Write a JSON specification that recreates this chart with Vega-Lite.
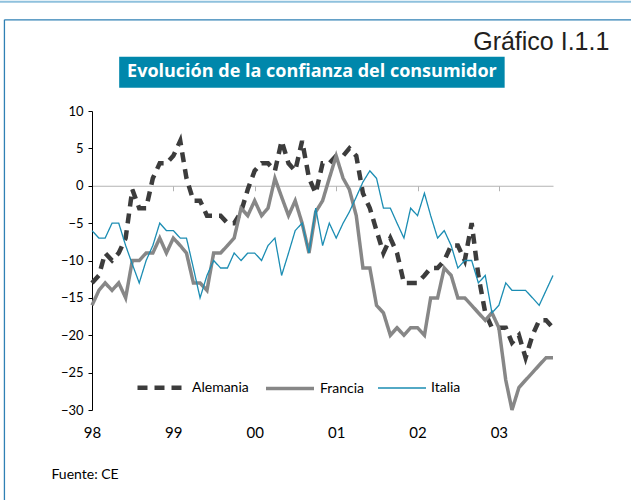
{
  "$schema": "https://vega.github.io/schema/vega-lite/v6.json",
  "autosize": {"type": "none"},
  "width": 461,
  "height": 299,
  "padding": {"left": 92, "top": 111, "right": 78, "bottom": 90},
  "background": "white",
  "config": {"view": {"stroke": null}, "font": "Lato"},
  "resolve": {"scale": {"x": "independent", "y": "independent"}, "axis": {"x": "independent", "y": "independent"}},
  "data": {"values": [
    {"date": "1998/01/01", "Alemania": -13, "Francia": -16, "Italia": -6},
    {"date": "1998/02/01", "Alemania": -12, "Francia": -14, "Italia": -7},
    {"date": "1998/03/01", "Alemania": -9, "Francia": -13, "Italia": -7},
    {"date": "1998/04/01", "Alemania": -10, "Francia": -14, "Italia": -5},
    {"date": "1998/05/01", "Alemania": -9, "Francia": -13, "Italia": -5},
    {"date": "1998/06/01", "Alemania": -7, "Francia": -15, "Italia": -8},
    {"date": "1998/07/01", "Alemania": -0.5, "Francia": -10, "Italia": -10.5},
    {"date": "1998/08/01", "Alemania": -3, "Francia": -10, "Italia": -13},
    {"date": "1998/09/01", "Alemania": -3, "Francia": -9, "Italia": -10},
    {"date": "1998/10/01", "Alemania": 1, "Francia": -9, "Italia": -8},
    {"date": "1998/11/01", "Alemania": 3, "Francia": -7, "Italia": -5},
    {"date": "1998/12/01", "Alemania": 3, "Francia": -9, "Italia": -6},
    {"date": "1999/01/01", "Alemania": 4, "Francia": -7, "Italia": -6},
    {"date": "1999/02/01", "Alemania": 6, "Francia": -8, "Italia": -7},
    {"date": "1999/03/01", "Alemania": 1, "Francia": -9, "Italia": -7},
    {"date": "1999/04/01", "Alemania": -2, "Francia": -13, "Italia": -11},
    {"date": "1999/05/01", "Alemania": -2, "Francia": -13, "Italia": -15},
    {"date": "1999/06/01", "Alemania": -4, "Francia": -14, "Italia": -12},
    {"date": "1999/07/01", "Alemania": -4, "Francia": -9, "Italia": -10},
    {"date": "1999/08/01", "Alemania": -4, "Francia": -9, "Italia": -11},
    {"date": "1999/09/01", "Alemania": -5, "Francia": -8, "Italia": -11},
    {"date": "1999/10/01", "Alemania": -5, "Francia": -7, "Italia": -9},
    {"date": "1999/11/01", "Alemania": -3.5, "Francia": -3, "Italia": -10},
    {"date": "1999/12/01", "Alemania": -0.5, "Francia": -4, "Italia": -9},
    {"date": "2000/01/01", "Alemania": 2, "Francia": -2, "Italia": -9},
    {"date": "2000/02/01", "Alemania": 3, "Francia": -4, "Italia": -10},
    {"date": "2000/03/01", "Alemania": 3, "Francia": -3, "Italia": -8},
    {"date": "2000/04/01", "Alemania": 2, "Francia": 1, "Italia": -7},
    {"date": "2000/05/01", "Alemania": 6, "Francia": -1.5, "Italia": -12},
    {"date": "2000/06/01", "Alemania": 3, "Francia": -4, "Italia": -9},
    {"date": "2000/07/01", "Alemania": 2, "Francia": -2, "Italia": -6},
    {"date": "2000/08/01", "Alemania": 6, "Francia": -5, "Italia": -5},
    {"date": "2000/09/01", "Alemania": 1, "Francia": -9, "Italia": -9},
    {"date": "2000/10/01", "Alemania": -1, "Francia": -3.5, "Italia": -3},
    {"date": "2000/11/01", "Alemania": 3, "Francia": -2, "Italia": -8},
    {"date": "2000/12/01", "Alemania": 3, "Francia": 1, "Italia": -5},
    {"date": "2001/01/01", "Alemania": 4, "Francia": 4, "Italia": -7},
    {"date": "2001/02/01", "Alemania": 4, "Francia": 1, "Italia": -5},
    {"date": "2001/03/01", "Alemania": 5, "Francia": -0.5, "Italia": -3.5},
    {"date": "2001/04/01", "Alemania": 4, "Francia": -4, "Italia": -1.5},
    {"date": "2001/05/01", "Alemania": -1, "Francia": -11, "Italia": 0.5},
    {"date": "2001/06/01", "Alemania": -3, "Francia": -11, "Italia": 2},
    {"date": "2001/07/01", "Alemania": -6, "Francia": -16, "Italia": 1},
    {"date": "2001/08/01", "Alemania": -9, "Francia": -17, "Italia": -3},
    {"date": "2001/09/01", "Alemania": -7, "Francia": -20, "Italia": -3},
    {"date": "2001/10/01", "Alemania": -9, "Francia": -19, "Italia": -5},
    {"date": "2001/11/01", "Alemania": -13, "Francia": -20, "Italia": -7},
    {"date": "2001/12/01", "Alemania": -13, "Francia": -19, "Italia": -3},
    {"date": "2002/01/01", "Alemania": -13, "Francia": -19, "Italia": -4},
    {"date": "2002/02/01", "Alemania": -12, "Francia": -20, "Italia": -1},
    {"date": "2002/03/01", "Alemania": -11, "Francia": -15, "Italia": -4},
    {"date": "2002/04/01", "Alemania": -11, "Francia": -15, "Italia": -7},
    {"date": "2002/05/01", "Alemania": -10, "Francia": -11, "Italia": -6},
    {"date": "2002/06/01", "Alemania": -8, "Francia": -12, "Italia": -8},
    {"date": "2002/07/01", "Alemania": -8, "Francia": -15, "Italia": -11},
    {"date": "2002/08/01", "Alemania": -10, "Francia": -15, "Italia": -10},
    {"date": "2002/09/01", "Alemania": -5, "Francia": -16, "Italia": -10},
    {"date": "2002/10/01", "Alemania": -12, "Francia": -17, "Italia": -13},
    {"date": "2002/11/01", "Alemania": -17, "Francia": -18, "Italia": -12},
    {"date": "2002/12/01", "Alemania": -19, "Francia": -17, "Italia": -17},
    {"date": "2003/01/01", "Alemania": -19, "Francia": -19, "Italia": -16},
    {"date": "2003/02/01", "Alemania": -19, "Francia": -26, "Italia": -13},
    {"date": "2003/03/01", "Alemania": -21, "Francia": -30, "Italia": -14},
    {"date": "2003/04/01", "Alemania": -20, "Francia": -27, "Italia": -14},
    {"date": "2003/05/01", "Alemania": -23, "Francia": -26, "Italia": -14},
    {"date": "2003/06/01", "Alemania": -20, "Francia": -25, "Italia": -15},
    {"date": "2003/07/01", "Alemania": -18, "Francia": -24, "Italia": -16},
    {"date": "2003/08/01", "Alemania": -18, "Francia": -23, "Italia": -14},
    {"date": "2003/09/01", "Alemania": -19, "Francia": -23, "Italia": -12}
  ]},
  "layer": [
    {
      "transform": [{"fold": ["Alemania", "Francia", "Italia"], "as": ["pais", "valor"]}],
      "mark": {"type": "line", "clip": false},
      "encoding": {
        "x": {"field": "date", "type": "temporal",
          "scale": {"domain": [{"year": 1998, "month": 1, "date": 1}, {"year": 2003, "month": 9, "date": 1}]},
          "axis": {"title": null, "orient": "bottom", "offset": -224.25, "format": "%y",
            "values": [{"year": 1998, "month": 1, "date": 1}, {"year": 1999, "month": 1, "date": 1}, {"year": 2000, "month": 1, "date": 1}, {"year": 2001, "month": 1, "date": 1}, {"year": 2002, "month": 1, "date": 1}, {"year": 2003, "month": 1, "date": 1}],
            "domainColor": "#b3b3b3", "domainWidth": 1.2, "tickColor": "#b3b3b3", "tickSize": 5, "tickWidth": 1,
            "labelPadding": 235, "labelFontSize": 15, "labelColor": "black", "labelFont": "Lato", "grid": false, "labelFlush": false, "labelOverlap": false}},
        "y": {"field": "valor", "type": "quantitative",
          "scale": {"domain": [-30, 10], "nice": false, "zero": false},
          "axis": {"title": null, "values": [-30, -25, -20, -15, -10, -5, 0, 5, 10], "labelOverlap": false, "labelFlush": false, "domainColor": "black", "domainWidth": 1, "tickColor": "black", "tickSize": 4, "labelPadding": 5, "labelFontSize": 13, "labelColor": "black", "labelFont": "Lato", "grid": false}},
        "color": {"field": "pais", "type": "nominal",
          "scale": {"domain": ["Alemania", "Francia", "Italia"], "range": ["#3c3c3c", "#878787", "#1b8db3"]},
          "legend": {"title": null, "orient": "none", "legendX": 43, "legendY": 250, "direction": "horizontal", "symbolType": "stroke", "symbolSize": 2304, "labelFontSize": 14, "labelFont": "Lato", "labelColor": "black", "columnPadding": 10, "labelOffset": 4}},
        "strokeDash": {"field": "pais", "type": "nominal",
          "scale": {"domain": ["Alemania", "Francia", "Italia"], "range": [[10, 7], [1, 0], [1, 0]]},
          "legend": {"title": null, "orient": "none", "legendX": 43, "legendY": 250, "direction": "horizontal", "symbolType": "stroke", "symbolSize": 2304, "labelFontSize": 14, "labelFont": "Lato", "labelColor": "black", "columnPadding": 10, "labelOffset": 4}},
        "strokeWidth": {"field": "pais", "type": "ordinal",
          "scale": {"type": "ordinal", "domain": ["Alemania", "Francia", "Italia"], "range": [4.5, 3.5, 1.3]},
          "legend": {"title": null, "orient": "none", "legendX": 43, "legendY": 250, "direction": "horizontal", "symbolType": "stroke", "symbolSize": 2304, "labelFontSize": 14, "labelFont": "Lato", "labelColor": "black", "columnPadding": 10, "labelOffset": 4}}
      }
    },
    {
      "data": {"values": [{}]},
      "mark": {"type": "rule", "color": "#8fc1dd", "strokeWidth": 2, "clip": false},
      "encoding": {
        "x": {"datum": {"year": 1996, "month": 1, "date": 1}, "type": "temporal", "axis": null, "scale": {"domain": [{"year": 1998, "month": 1, "date": 1}, {"year": 2003, "month": 9, "date": 1}]}},
        "x2": {"datum": {"year": 2005, "month": 1, "date": 1}},
        "y": {"datum": 24.6, "type": "quantitative", "axis": null, "scale": {"domain": [-30, 10], "nice": false, "zero": false}}
      }
    },
    {
      "data": {"values": [{}]},
      "mark": {"type": "rule", "color": "#2f80b4", "strokeWidth": 1.3, "clip": false},
      "encoding": {
        "x": {"datum": {"year": 1996, "month": 12, "date": 4}, "type": "temporal", "axis": null, "scale": {"domain": [{"year": 1998, "month": 1, "date": 1}, {"year": 2003, "month": 9, "date": 1}]}},
        "x2": {"datum": {"year": 2005, "month": 1, "date": 1}},
        "y": {"datum": 22.2, "type": "quantitative", "axis": null, "scale": {"domain": [-30, 10], "nice": false, "zero": false}}
      }
    },
    {
      "data": {"values": [{}]},
      "mark": {"type": "rule", "color": "#2f80b4", "strokeWidth": 1.3, "clip": false},
      "encoding": {
        "x": {"datum": {"year": 1996, "month": 12, "date": 4}, "type": "temporal", "axis": null, "scale": {"domain": [{"year": 1998, "month": 1, "date": 1}, {"year": 2003, "month": 9, "date": 1}]}},
        "y": {"datum": 22.2, "type": "quantitative", "axis": null, "scale": {"domain": [-30, 10], "nice": false, "zero": false}},
        "y2": {"datum": -50}
      }
    },
    {
      "data": {"values": [{}]},
      "mark": {"type": "rect", "color": "#0087ab", "clip": false},
      "encoding": {
        "x": {"datum": {"year": 1998, "month": 5, "date": 3}, "type": "temporal", "axis": null, "scale": {"domain": [{"year": 1998, "month": 1, "date": 1}, {"year": 2003, "month": 9, "date": 1}]}},
        "x2": {"datum": {"year": 2003, "month": 1, "date": 27}},
        "y": {"datum": 17.26, "type": "quantitative", "axis": null, "scale": {"domain": [-30, 10], "nice": false, "zero": false}},
        "y2": {"datum": 13.11}
      }
    },
    {
      "data": {"values": [{"t": "Evolución de la confianza del consumidor"}]},
      "mark": {"type": "text", "color": "white", "font": "Open Sans", "fontWeight": "bold", "fontSize": 18, "align": "center", "baseline": "middle", "clip": false},
      "encoding": {
        "x": {"datum": {"year": 2000, "month": 9, "date": 14}, "type": "temporal", "axis": null, "scale": {"domain": [{"year": 1998, "month": 1, "date": 1}, {"year": 2003, "month": 9, "date": 1}]}},
        "y": {"datum": 15.18, "type": "quantitative", "axis": null, "scale": {"domain": [-30, 10], "nice": false, "zero": false}},
        "text": {"field": "t"}
      }
    },
    {
      "data": {"values": [{"t": "Gráfico I.1.1"}]},
      "mark": {"type": "text", "color": "#231f20", "font": "Liberation Sans", "fontSize": 25, "align": "right", "baseline": "middle", "clip": false},
      "encoding": {
        "x": {"datum": {"year": 2004, "month": 5, "date": 11}, "type": "temporal", "axis": null, "scale": {"domain": [{"year": 1998, "month": 1, "date": 1}, {"year": 2003, "month": 9, "date": 1}]}},
        "y": {"datum": 19.26, "type": "quantitative", "axis": null, "scale": {"domain": [-30, 10], "nice": false, "zero": false}},
        "text": {"field": "t"}
      }
    },
    {
      "data": {"values": [{"t": "Fuente:  CE"}]},
      "mark": {"type": "text", "color": "black", "font": "Lato", "fontSize": 14, "align": "left", "baseline": "middle", "clip": false},
      "encoding": {
        "x": {"datum": {"year": 1997, "month": 7, "date": 3}, "type": "temporal", "axis": null, "scale": {"domain": [{"year": 1998, "month": 1, "date": 1}, {"year": 2003, "month": 9, "date": 1}]}},
        "y": {"datum": -38.66, "type": "quantitative", "axis": null, "scale": {"domain": [-30, 10], "nice": false, "zero": false}},
        "text": {"field": "t"}
      }
    }
  ]
}
